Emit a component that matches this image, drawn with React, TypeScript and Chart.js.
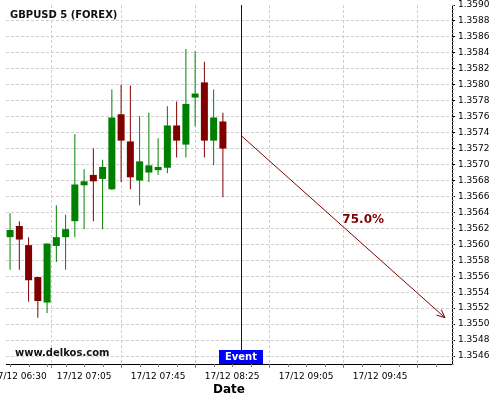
import React, { useEffect, useRef } from "react";
import { Chart, registerables } from "chart.js";

Chart.register(...registerables);

const FONT = "'DejaVu Sans', sans-serif";

const chartTitle = "GBPUSD 5 (FOREX)";
const watermark = "www.delkos.com";
const dateLabel = "17/12";
const xAxisTitle = "Date";
const eventLabel = "Event";

const candleTimes = [
  "06:25", "06:30", "06:35", "06:40", "06:45", "06:50", "06:55", "07:00",
  "07:05", "07:10", "07:15", "07:20", "07:25", "07:30", "07:35", "07:40",
  "07:45", "07:50", "07:55", "08:00", "08:05", "08:10", "08:15", "08:20",
];
const opens = [
  1.35609, 1.35623, 1.35599, 1.35559, 1.35527, 1.35598, 1.35609, 1.35629,
  1.35674, 1.35687, 1.35682, 1.35669, 1.35763, 1.35729, 1.3568, 1.3569,
  1.35693, 1.35696, 1.35749, 1.35725, 1.35784, 1.35803, 1.3573, 1.35754,
];
const highs = [
  1.35639, 1.35629, 1.35609, 1.35559, 1.35601, 1.35649, 1.35637, 1.35738,
  1.35694, 1.3572, 1.35706, 1.35794, 1.358, 1.35799, 1.35761, 1.35765,
  1.35733, 1.35773, 1.35779, 1.35845, 1.35842, 1.35829, 1.35794, 1.35765,
];
const lows = [
  1.35568, 1.35568, 1.35528, 1.35508, 1.35514, 1.35578, 1.35568, 1.35609,
  1.35619, 1.35629, 1.35619, 1.35668, 1.35678, 1.35669, 1.35649, 1.35678,
  1.35687, 1.35689, 1.35709, 1.35709, 1.35748, 1.35709, 1.35699, 1.35659,
];
const closes = [
  1.35618, 1.35606, 1.35555, 1.35529, 1.35601, 1.35609, 1.35619, 1.35675,
  1.35679, 1.35679, 1.35697, 1.35759, 1.3573, 1.35684, 1.35704, 1.35699,
  1.35697, 1.35749, 1.3573, 1.35776, 1.35789, 1.3573, 1.35759, 1.3572,
];

const eventTime = "08:30";
const forecastTimes = ["08:30", "10:20"];
const forecastValues = [1.35736, 1.35508];
const forecastLabel = "75.0%";

const xTickTimes = ["06:30", "07:05", "07:45", "08:25", "09:05", "09:45"];
const yTickLabels = [
  "1.3546", "1.3548", "1.3550", "1.3552", "1.3554", "1.3556", "1.3558", "1.3560",
  "1.3562", "1.3564", "1.3566", "1.3568", "1.3570", "1.3572", "1.3574", "1.3576",
  "1.3578", "1.3580", "1.3582", "1.3584", "1.3586", "1.3588", "1.3590",
];
const xViewStart = "06:22:48";
const xViewEnd = "10:23:48";
const yViewMin = 1.3545;
const yViewMax = 1.359;

const UP = "#008000";
const DOWN = "#800000";
const ARROW = "#800000";
const GRID = "#cfcfcf";

const toMin = (s: string) => {
  const [h, m, sec] = s.split(":").map(Number);
  return h * 60 + m + (sec || 0) / 60;
};
const fmt = (v: number) => {
  const t = Math.round(v);
  const h = Math.floor(t / 60);
  const m = t % 60;
  return `${String(h).padStart(2, "0")}:${String(m).padStart(2, "0")}`;
};

const overlay = {
  id: "overlay",
  afterDatasetsDraw(chart: any) {
    const { ctx, chartArea, scales } = chart;
    const x = scales.x;
    ctx.save();
    // event line
    const ex = Math.round(x.getPixelForValue(toMin(eventTime))) + 0.5;
    ctx.strokeStyle = "#0000cc";
    ctx.lineWidth = 1;
    ctx.beginPath();
    ctx.moveTo(ex, chartArea.top);
    ctx.lineTo(ex, chartArea.bottom);
    ctx.stroke();
    // arrow head
    const meta = chart.getDatasetMeta(2);
    const p0 = meta.data[0];
    const p1 = meta.data[1];
    const ang = Math.atan2(p1.y - p0.y, p1.x - p0.x);
    const L = 9;
    const spread = 0.42;
    ctx.strokeStyle = ARROW;
    ctx.beginPath();
    ctx.moveTo(p1.x - L * Math.cos(ang - spread), p1.y - L * Math.sin(ang - spread));
    ctx.lineTo(p1.x, p1.y);
    ctx.lineTo(p1.x - L * Math.cos(ang + spread), p1.y - L * Math.sin(ang + spread));
    ctx.stroke();
    // label
    ctx.fillStyle = DOWN;
    ctx.font = `bold 12px ${FONT}`;
    ctx.textAlign = "center";
    ctx.textBaseline = "middle";
    ctx.fillText(forecastLabel, (p0.x + p1.x) / 2 + 20, (p0.y + p1.y) / 2 - 7);
    ctx.restore();
  },
  afterDraw(chart: any) {
    const { ctx, chartArea, scales } = chart;
    const x = scales.x;
    const y = scales.y;
    ctx.save();
    // minor ticks y
    ctx.strokeStyle = "#999";
    ctx.lineWidth = 1;
    ctx.beginPath();
    for (let k = 0; k <= 90; k++) {
      const v = yViewMin + k * 0.00005;
      if (v > yViewMax + 1e-9) break;
      const py = Math.round(y.getPixelForValue(v)) + 0.5;
      ctx.moveTo(chartArea.right, py);
      ctx.lineTo(chartArea.right + 2, py);
    }
    ctx.stroke();
    // minor ticks x
    ctx.strokeStyle = "#777";
    ctx.beginPath();
    for (let t = toMin(candleTimes[0]); t <= toMin(xViewEnd); t += 10) {
      const px = Math.round(x.getPixelForValue(t)) + 0.5;
      ctx.moveTo(px, chartArea.bottom);
      ctx.lineTo(px, chartArea.bottom + 3);
    }
    ctx.stroke();
    // event box
    const ex = Math.round(x.getPixelForValue(toMin(eventTime)));
    ctx.fillStyle = "#0000ff";
    ctx.fillRect(ex - 22, chartArea.bottom - 14, 44, 14);
    ctx.fillStyle = "#fff";
    ctx.font = `bold 10px ${FONT}`;
    ctx.textAlign = "center";
    ctx.textBaseline = "middle";
    ctx.fillText(eventLabel, ex, chartArea.bottom - 7);
    // title
    ctx.fillStyle = "#111";
    ctx.textAlign = "left";
    ctx.fillText(chartTitle, 10, 15);
    // watermark
    ctx.fillText(watermark, 15, 353);
    ctx.restore();
  },
};

export default function App() {
  const ref = useRef<HTMLCanvasElement>(null);
  useEffect(() => {
    const times = candleTimes.map(toMin);
    const colors = opens.map((o, i) => (closes[i] >= o ? UP : DOWN));
    const chart = new Chart(ref.current as HTMLCanvasElement, {
      type: "bar",
      data: {
        datasets: [
          {
            type: "bar",
            data: times.map((t, i) => ({ x: t, y: [opens[i], closes[i]] })) as any,
            backgroundColor: colors,
            borderWidth: 0,
            barThickness: 7,
            grouped: false,
            inflateAmount: 0,
          } as any,
          {
            type: "bar",
            data: times.map((t, i) => ({ x: t, y: [lows[i], highs[i]] })) as any,
            backgroundColor: colors,
            borderWidth: 0,
            barThickness: 1,
            grouped: false,
            inflateAmount: 0,
          } as any,
          {
            type: "line",
            data: forecastTimes.map((t, i) => ({ x: toMin(t), y: forecastValues[i] })) as any,
            borderColor: ARROW,
            borderWidth: 1,
            pointRadius: 0,
            tension: 0,
            fill: false,
          } as any,
        ],
      },
      options: {
        responsive: false,
        animation: false,
        events: [],
        layout: { padding: { left: 6, top: 5, right: 0, bottom: 0 } },
        plugins: {
          legend: { display: false },
          tooltip: { enabled: false },
        },
        scales: {
          x: {
            type: "linear",
            min: toMin(xViewStart),
            max: toMin(xViewEnd),
            offset: false,
            afterBuildTicks: (s: any) => {
              s.ticks = xTickTimes.map((t) => ({ value: toMin(t) }));
            },
            afterFit: (s: any) => {
              s.height = 36;
              s.paddingLeft = 0;
              s.paddingRight = 0;
            },
            ticks: {
              autoSkip: false,
              maxRotation: 0,
              padding: 3,
              color: "#000",
              font: { family: FONT, size: 9 },
              callback: (v: any) => `${dateLabel} ${fmt(Number(v))}`,
            },
            grid: { color: GRID, tickColor: "#888", tickLength: 4 },
            border: { display: true, color: "#000", width: 1, dash: [3, 2] },
            title: {
              display: true,
              text: xAxisTitle,
              color: "#000",
              font: { family: FONT, size: 12, weight: "bold" },
              padding: { top: 0, bottom: 3 },
            },
          } as any,
          y: {
            type: "linear",
            position: "right",
            min: yViewMin,
            max: yViewMax,
            afterBuildTicks: (s: any) => {
              s.ticks = yTickLabels.map((t) => ({ value: Number(t) }));
            },
            afterFit: (s: any) => {
              s.width = 48;
              s.paddingTop = 0;
              s.paddingBottom = 0;
            },
            ticks: {
              padding: 3,
              color: "#000",
              font: { family: FONT, size: 9 },
              callback: (v: any) => Number(v).toFixed(4),
            },
            grid: {
              color: (c: any) => (c.tick && c.tick.value >= yViewMax - 1e-7 ? "rgba(0,0,0,0)" : GRID),
              tickColor: "#000",
              tickLength: 3,
            },
            border: { display: true, color: "#000", width: 1, dash: [3, 2] },
          } as any,
        },
      },
      plugins: [overlay],
    } as any);
    return () => chart.destroy();
  }, []);
  return (
    <div style={{ position: "fixed", left: 0, top: 0, width: 500, height: 400, background: "#fff" }}>
      <canvas ref={ref} width={500} height={400} style={{ display: "block" }} />
    </div>
  );
}
